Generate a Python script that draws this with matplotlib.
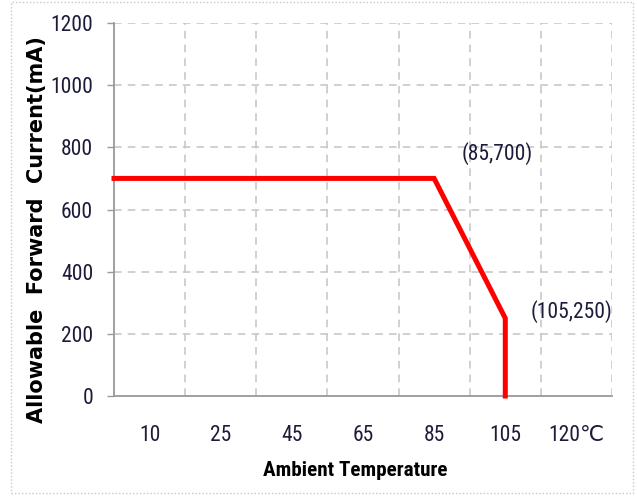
import matplotlib
matplotlib.use("Agg")
import matplotlib.pyplot as plt
from matplotlib.patches import Rectangle

# derating curve: allowable forward current vs ambient temperature
temps = [10, 25, 45, 65, 85, 105, 120]
tick_labels = ["10", "25", "45", "65", "85", "105", "120℃"]
y_ticks = [0, 200, 400, 600, 800, 1000, 1200]

knee_temps = [85, 105, 105]          # curve runs flat from the left edge up to 85
curve_current = [700, 700, 250, 0]
notes = ["(85,700)", "(105,250)"]

narrow = ["Roboto Condensed", "DejaVu Sans"]
text_col = "#1c1c3a"
grid_col = "#c4c4c4"

fig = plt.figure(figsize=(6.37, 4.96), dpi=100)
ax = fig.add_axes([114 / 637, 100 / 496, 498 / 637, 373 / 496])

# categories sit in the middle of equal slots
pos = [i + 0.5 for i in range(len(temps))]
curve_x = [0] + [pos[temps.index(t)] for t in knee_temps]
ax.plot(curve_x, curve_current, color="#ff0000", lw=3.6, solid_joinstyle="miter",
        zorder=3, clip_on=False)

ax.set_xlim(0, len(temps))
ax.set_ylim(0, 1200)

# dashed grid on the slot boundaries
for x in range(1, len(temps) + 1):
    ax.axvline(x, color=grid_col, ls=(0, (5, 4)), lw=1.1, zorder=1)
for y in y_ticks[1:]:
    ax.axhline(y, color=grid_col, ls=(0, (5, 4)), lw=1.1, zorder=1)

ax.set_xticks(pos)
ax.set_xticklabels(tick_labels, family=narrow, fontsize=15.5, color=text_col)
ax.set_yticks(y_ticks)
ax.set_yticklabels([str(v) for v in y_ticks], family=narrow, fontsize=15.5,
                   color=text_col)
ax.tick_params(axis="x", length=0, pad=21)
ax.tick_params(axis="y", length=5, width=1, color="#999999", pad=10)

for s in ["top", "right"]:
    ax.spines[s].set_visible(False)
for s in ["left", "bottom"]:
    ax.spines[s].set_color("#999999")
    ax.spines[s].set_linewidth(1.3)

# point labels at the knees
ax.annotate(notes[0], xy=(pos[4], 700), xytext=(20, 18), textcoords="offset points",
            ha="left", va="center", family=narrow, fontsize=15.5, color=text_col)
ax.annotate(notes[1], xy=(pos[5], 250), xytext=(18, 5), textcoords="offset points",
            ha="left", va="center", family=narrow, fontsize=15.5, color=text_col)

fig.text(355 / 637, 1 - 470 / 496, "Ambient Temperature", ha="center", va="center",
         family=narrow, fontsize=15.2, fontweight="bold", color="black")
fig.text(37 / 637, 1 - 230 / 496, "Allowable  Forward  Current(mA)", rotation=90,
         ha="center", va="center", family="DejaVu Sans", fontsize=15,
         fontweight="bold", color="black")

# dotted frame around the whole figure
fig.patches.append(Rectangle((11 / 637, 3 / 496), 622 / 637, 491 / 496,
                             transform=fig.transFigure, fill=False,
                             ec="#c8c8c8", lw=1, ls=(0, (1, 1.5))))

fig.savefig("out.png", dpi=100)
